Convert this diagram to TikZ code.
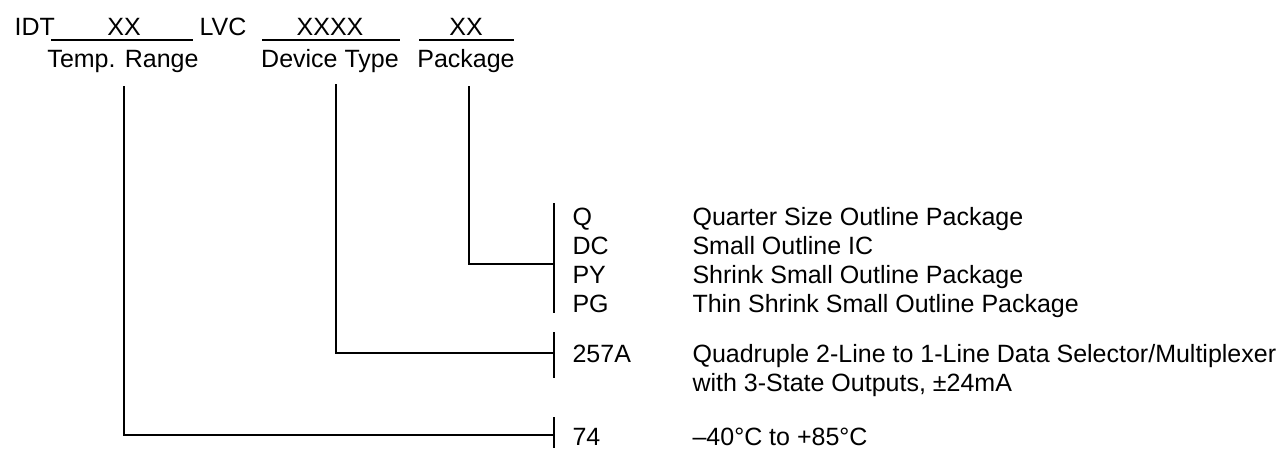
\documentclass[tikz,border=0pt]{standalone}
\usepackage{fontspec}
\setmainfont{Liberation Sans}
\begin{document}
\begin{tikzpicture}[x=1pt,y=-1pt,line width=1.1pt,
  txt/.style={anchor=base west,inner sep=0pt,font=\fontsize{25}{29.5}\selectfont},
  ctr/.style={txt,anchor=base}]
\useasboundingbox (0,0) rectangle (1284,448);
% part number
\node[txt] (idt) at (14,35) {IDT};
\node[ctr] (xx) at (124,35) {XX};
\node[txt] (lvc) at (199,35) {LVC};
\node[ctr] (xxxx) at (330,35) {XXXX};
\node[ctr] (pk) at (466,35) {XX};
\draw (51,40) -- (193,40);
\draw (262,40) -- (400,40);
\draw (419,40) -- (514,40);
\node[ctr] (temp) at (123,67) {Temp. Range};
\node[ctr] (dev) at (330,67) {Device Type};
\node[ctr] (pkg) at (466,67) {Package};
% ends of the leaders
\coordinate (tempTop) at (124,86);
\coordinate (devTop) at (336,84);
\coordinate (pkgTop) at (469,86);
\coordinate (pkgBar) at (554,264);
\coordinate (devBar) at (554,353);
\coordinate (tempBar) at (554,435);
% bars
\draw (554,203) -- (554,313);
\draw (554,332) -- (554,378);
\draw (554,417) -- (554,448);
% leaders
\draw (pkgTop) |- (pkgBar);
\draw (devTop) |- (devBar);
\draw (tempTop) |- (tempBar);
% package codes
\node[txt] (q) at (572,225) {Q};
\node[txt] (dc) at (572,254) {DC};
\node[txt] (py) at (572,283) {PY};
\node[txt] (pg) at (572,312) {PG};
\node[txt] (qd) at (692,225) {Quarter Size Outline Package};
\node[txt] (dcd) at (692,254) {Small Outline IC};
\node[txt] (pyd) at (692,283) {Shrink Small Outline Package};
\node[txt] (pgd) at (692,312) {Thin Shrink Small Outline Package};
% device type
\node[txt] (dt) at (572,362) {257A};
\node[txt] (dtd) at (692,362) {Quadruple 2-Line to 1-Line Data Selector/Multiplexer};
\node[txt] (dtd2) at (692,391) {with 3-State Outputs, ±24mA};
% temperature
\node[txt] (tr) at (572,445) {74};
\node[txt] (trd) at (692,445) {–40°C to +85°C};
\end{tikzpicture}
\end{document}
